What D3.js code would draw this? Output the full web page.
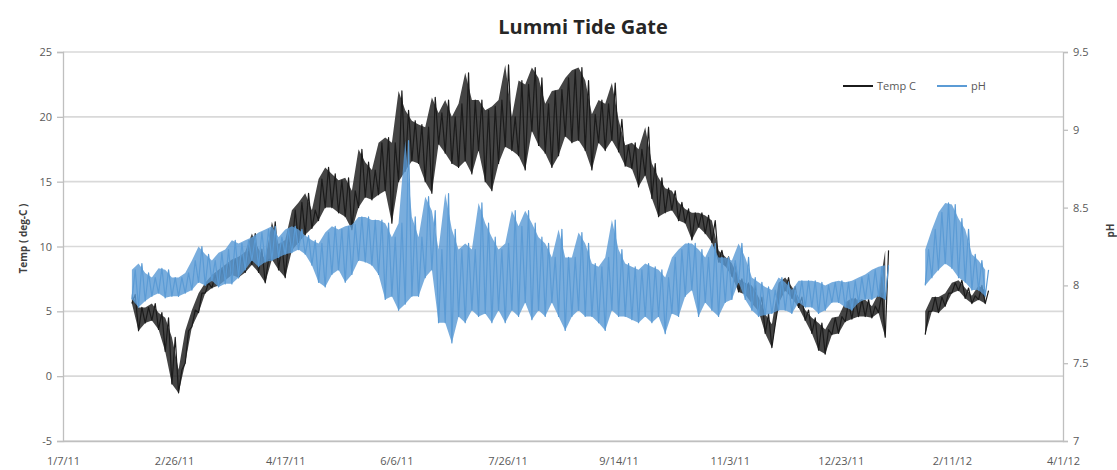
<!DOCTYPE html>
<html>
<head>
<meta charset="utf-8">
<script src="https://cdn.jsdelivr.net/npm/d3@7"></script>
<style>
  html, body { margin: 0; padding: 0; background: #ffffff; }
  svg { display: block; }
  text { font-family: "Open Sans", "Liberation Sans", sans-serif; }
</style>
</head>
<body>
<svg id="chart" width="1117" height="470"></svg>
<script>
// ---------------- DATA ----------------
const chartTitle = "Lummi Tide Gate";
const seriesNames = ["Temp C", "pH"];
const leftAxisTitle = "Temp ( deg-C )";
const rightAxisTitle = "pH";

const xTickLabels = ["1/7/11", "2/26/11", "4/17/11", "6/6/11", "7/26/11", "9/14/11", "11/3/11", "12/23/11", "2/11/12", "4/1/12"];
const tempTicks = [-5, 0, 5, 10, 15, 20, 25];
const phTicks = [7, 7.5, 8, 8.5, 9, 9.5];

// samples every 3 days starting 2/7/11: low / high
const sampleStart = "2/7/11";
const sampleStepDays = 3;

const tempLo = [
  5.6, 3.5, 4.1, 4.3, 3.6, 1.9, -0.6, -1.3, 1.0, 3.8,
  4.9, 6.4, 6.8, 7.0, 7.4, 7.8, 7.6, 8.0, 8.6, 8.0,
  7.2, 9.0, 8.2, 7.6, 9.7, 10.3, 10.9, 11.4, 12.0, 13.0,
  13.0, 12.6, 12.3, 11.3, 13.0, 13.8, 13.6, 14.0, 14.3, 11.8,
  15.0, 15.8, 16.6, 16.4, 15.0, 14.1, 17.9, 17.2, 16.4, 16.1,
  16.6, 15.6, 17.4, 15.0, 14.3, 16.4, 17.7, 17.4, 17.0, 15.9,
  18.9, 17.8, 17.2, 16.1, 17.0, 18.5, 18.0, 18.2, 17.4, 15.9,
  18.0, 17.4, 18.2, 17.3, 16.2, 16.0, 14.6, 15.5, 13.7, 12.3,
  12.6, 12.8, 12.0, 11.8, 10.5, 11.5, 11.0, 10.3, 8.8, 8.5,
  7.7, 6.5, 6.3, 5.6, 5.0, 3.3, 2.2, 5.6, 6.6, 6.0,
  5.3, 4.3, 3.3, 2.0, 1.7, 3.2, 3.3, 4.2, 4.4, 4.6,
  4.6, 4.5, 4.9, 3.0, null, null, null, null, null, 3.2,
  5.0, 4.9, 5.4, 6.4, 6.6, 6.0, 5.6, 5.9, 5.6
];
const tempHi = [
  6.3, 5.3, 5.3, 5.6, 4.9, 4.5, 3.0, 0.5, 3.5, 5.1,
  6.4, 7.2, 7.8, 8.2, 8.6, 9.0, 9.2, 9.6, 11.0, 9.8,
  9.0, 11.9, 10.2, 10.5, 12.8, 13.4, 14.1, 12.8, 15.2, 16.1,
  15.6, 15.1, 15.3, 14.3, 17.5, 16.5, 15.9, 18.0, 18.4, 18.0,
  22.0, 20.5, 19.7, 19.4, 19.2, 21.5, 20.3, 21.3, 20.0, 21.0,
  23.4, 21.3, 21.3, 20.5, 20.8, 21.3, 24.0, 20.0, 22.8, 22.5,
  23.8, 23.0, 21.0, 22.0, 22.1, 23.0, 23.6, 23.8, 22.8, 20.2,
  21.3, 21.0, 22.6, 19.8, 17.8, 18.0, 17.5, 19.2, 16.4, 15.3,
  14.5, 14.3, 13.4, 12.9, 12.6, 12.6, 12.4, 12.0, 9.7, 9.2,
  8.7, 7.5, 7.2, 7.0, 6.1, 4.8, 4.0, 7.2, 7.6, 6.9,
  6.1, 5.1, 4.5, 4.1, 3.6, 4.5, 4.6, 5.7, 6.0, 5.9,
  5.9, 5.4, 6.4, 9.7, null, null, null, null, null, 5.0,
  6.1, 6.1, 6.4, 7.2, 7.4, 6.8, 6.2, 7.0, 6.6
];
const phLo = [
  7.91, 7.86, 7.90, 7.93, 7.95, 7.92, 7.93, 7.93, 7.95, 7.97,
  8.02, 8.00, 8.03, 7.99, 8.01, 8.01, 8.05, 8.10, 8.16, 8.12,
  8.15, 8.16, 8.18, 8.20, 8.21, 8.23, 8.20, 8.13, 8.02, 7.99,
  8.07, 8.10, 8.02, 8.07, 8.16, 8.15, 8.13, 8.07, 7.91, 7.93,
  7.84, 7.88, 7.93, 7.93, 8.05, 8.10, 7.76, 7.76, 7.63, 7.80,
  7.76, 7.84, 7.80, 7.82, 7.76, 7.84, 7.76, 7.84, 7.80, 7.89,
  7.78, 7.84, 7.80, 7.89, 7.80, 7.71, 7.80, 7.84, 7.80, 7.80,
  7.76, 7.71, 7.84, 7.80, 7.80, 7.78, 7.76, 7.80, 7.76, 7.80,
  7.69, 7.82, 7.80, 7.93, 7.97, 7.80, 7.89, 7.84, 7.80, 7.89,
  7.91, 8.02, 7.91, 7.84, 7.80, 7.81, 7.82, 7.84, 7.84, 7.82,
  7.89, 7.86, 7.86, 7.82, 7.84, 7.89, 7.89, 7.86, 7.84, 7.89,
  7.91, 7.91, 7.93, 7.91, null, null, null, null, null, 8.00,
  8.05, 8.10, 8.14, 8.11, 8.05, 8.02, 7.97, 7.97, 7.93
];
const phHi = [
  8.10, 8.14, 8.08, 8.05, 8.11, 8.10, 8.05, 8.05, 8.08, 8.16,
  8.25, 8.20, 8.16, 8.21, 8.23, 8.29, 8.27, 8.29, 8.31, 8.34,
  8.36, 8.38, 8.31, 8.36, 8.38, 8.36, 8.32, 8.29, 8.27, 8.34,
  8.38, 8.36, 8.38, 8.39, 8.44, 8.44, 8.42, 8.42, 8.40, 8.31,
  8.40, 8.93, 8.44, 8.31, 8.57, 8.48, 8.23, 8.59, 8.36, 8.23,
  8.27, 8.23, 8.53, 8.40, 8.31, 8.23, 8.27, 8.48, 8.38, 8.48,
  8.40, 8.31, 8.27, 8.18, 8.36, 8.18, 8.18, 8.34, 8.27, 8.14,
  8.12, 8.18, 8.42, 8.23, 8.14, 8.12, 8.10, 8.14, 8.12, 8.10,
  8.05, 8.18, 8.23, 8.27, 8.27, 8.23, 8.18, 8.27, 8.18, 8.18,
  8.16, 8.27, 8.18, 8.05, 8.02, 7.99, 7.97, 8.05, 8.02, 7.97,
  8.03, 8.03, 8.03, 8.02, 8.00, 8.02, 8.03, 8.02, 8.03, 8.05,
  8.07, 8.10, 8.12, 8.13, null, null, null, null, null, 8.23,
  8.36, 8.47, 8.53, 8.52, 8.43, 8.36, 8.20, 8.16, 8.10
];

// ---------------- DRAW ----------------
const W = 1117, H = 470;
const plot = { left: 63, right: 1063, top: 52, bottom: 441 };
const tempColor = "#1b1b1b";
const phColor = "#5b9bd5";
const gridColor = "#d9d9d9";
const axisColor = "#bfbfbf";
const labelColor = "#595959";

const parseD = d3.utcParse("%m/%d/%y");
const fmtD = d => `${d.getUTCMonth() + 1}/${d.getUTCDate()}/${String(d.getUTCFullYear()).slice(2)}`;
const xTickDates = xTickLabels.map(parseD);

const x = d3.scaleUtc()
  .domain([xTickDates[0], xTickDates[xTickDates.length - 1]])
  .range([plot.left, plot.right]);
const yT = d3.scaleLinear().domain([tempTicks[0], tempTicks[tempTicks.length - 1]]).range([plot.bottom, plot.top]);
const yP = d3.scaleLinear().domain([phTicks[0], phTicks[phTicks.length - 1]]).range([plot.bottom, plot.top]);

const svg = d3.select("#chart");
svg.append("rect").attr("width", W).attr("height", H).attr("fill", "#fff");

// gridlines
svg.append("g").selectAll("line").data(tempTicks).join("line")
  .attr("x1", plot.left).attr("x2", plot.right)
  .attr("y1", d => yT(d)).attr("y2", d => yT(d))
  .attr("stroke", gridColor).attr("stroke-width", 1.6);

// build series points
const t0 = parseD(sampleStart);
const dayMs = 86400000;
function buildSeries(lo, hi) {
  const zig = [], band = [];
  lo.forEach((l, i) => {
    const t = new Date(t0.getTime() + i * sampleStepDays * dayMs);
    const h = hi[i];
    if (l == null || h == null) {
      zig.push(null); band.push(null);
      return;
    }
    zig.push({ t: t, v: l });
    zig.push({ t: new Date(t.getTime() + sampleStepDays / 2 * dayMs), v: h });
    band.push({ t: t, lo: l, hi: h });
  });
  return { zig, band };
}

function drawSeries(lo, hi, y, color) {
  const s = buildSeries(lo, hi);
  const area = d3.area()
    .defined(d => d != null)
    .x(d => x(d.t)).y0(d => y(d.lo)).y1(d => y(d.hi))
    .curve(d3.curveLinear);
  const line = d3.line()
    .defined(d => d != null)
    .x(d => x(d.t)).y(d => y(d.v));
  const g = svg.append("g");
  g.append("path").attr("d", area(s.band))
    .attr("fill", color).attr("fill-opacity", 0.82).attr("stroke", "none");
  g.append("path").attr("d", line(s.zig))
    .attr("fill", "none").attr("stroke", color).attr("stroke-width", 1.2)
    .attr("stroke-linejoin", "round");
}

drawSeries(tempLo, tempHi, yT, tempColor);
drawSeries(phLo, phHi, yP, phColor);

// axes
function styleAxis(g) {
  g.selectAll(".domain").attr("stroke", axisColor).attr("stroke-width", 1.3);
  g.selectAll(".tick line").attr("stroke", axisColor).attr("stroke-width", 1.3);
  g.selectAll(".tick text").attr("fill", labelColor)
    .style("font-family", '"Open Sans", "Liberation Sans", sans-serif').style("font-size", "11px");
}

const gl = svg.append("g").attr("transform", `translate(${plot.left},0)`)
  .call(d3.axisLeft(yT).tickValues(tempTicks).tickSize(6).tickPadding(5).tickFormat(d => String(d)));
styleAxis(gl);

const gr = svg.append("g").attr("transform", `translate(${plot.right},0)`)
  .call(d3.axisRight(yP).tickValues(phTicks).tickSize(5).tickPadding(5).tickFormat(d => String(d)));
styleAxis(gr);

const gb = svg.append("g").attr("transform", `translate(0,${plot.bottom})`)
  .call(d3.axisBottom(x).tickValues(xTickDates).tickSize(0).tickPadding(18).tickFormat(fmtD));
styleAxis(gb);
gb.selectAll(".tick text").attr("dy", "0.55em");

// title
svg.append("text").attr("x", 583).attr("y", 34).attr("text-anchor", "middle")
  .style("font-size", "20px").style("font-weight", "bold").attr("fill", "#262626")
  .text(chartTitle);

// axis titles
svg.append("text").attr("transform", `translate(27,${(plot.top + plot.bottom) / 2 - 8}) rotate(-90)`)
  .attr("text-anchor", "middle").style("font-size", "10px").style("font-weight", "bold").attr("fill", "#404040")
  .text(leftAxisTitle);
svg.append("text").attr("transform", `translate(1114,${(plot.top + plot.bottom) / 2 - 16}) rotate(-90)`)
  .attr("text-anchor", "middle").style("font-size", "10px").style("font-weight", "bold").attr("fill", "#404040")
  .text(rightAxisTitle);

// legend
const legend = svg.append("g").attr("transform", "translate(843,86)");
const legendItems = [
  { name: seriesNames[0], color: tempColor, dx: 0 },
  { name: seriesNames[1], color: phColor, dx: 94 }
];
legendItems.forEach(it => {
  const g = legend.append("g").attr("transform", `translate(${it.dx},0)`);
  g.append("line").attr("x1", 0).attr("x2", 30).attr("y1", 0).attr("y2", 0)
    .attr("stroke", it.color).attr("stroke-width", 2);
  g.append("text").attr("x", 34).attr("y", 0).attr("dy", "0.35em")
    .style("font-size", "11px").attr("fill", labelColor).text(it.name);
});
</script>
</body>
</html>
